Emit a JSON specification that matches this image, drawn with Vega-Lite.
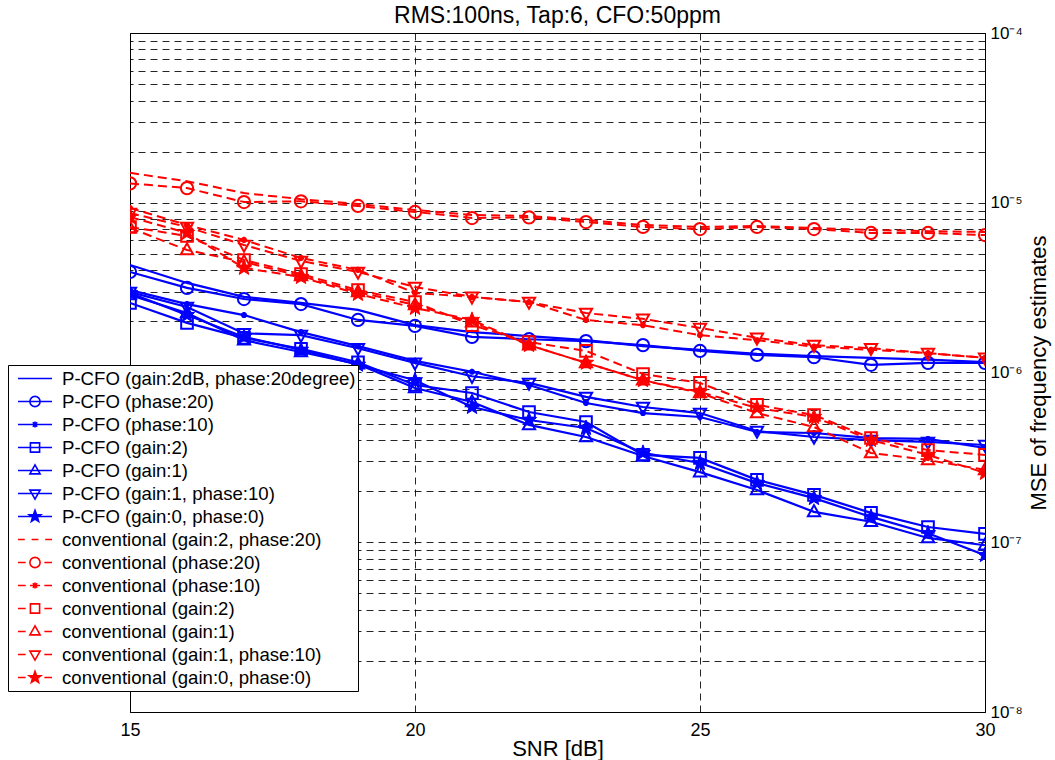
{
"$schema": "https://vega.github.io/schema/vega-lite/v6.json",
"width": 855, "height": 679,
"autosize": {"type": "none"},
"padding": {"left": 130, "top": 33, "right": 70, "bottom": 48},
"background": "white",
"title": {"text": "RMS:100ns, Tap:6, CFO:50ppm", "fontSize": 23, "font": "Liberation Sans", "fontWeight": "normal", "color": "black", "offset": -4, "anchor": "middle"},
"datasets": {"d": [
{"s":"P-CFO (gain:2dB, phase:20degree)","x":15,"y":4.3e-6},{"s":"P-CFO (gain:2dB, phase:20degree)","x":16,"y":3.37e-6},{"s":"P-CFO (gain:2dB, phase:20degree)","x":17,"y":2.79e-6},{"s":"P-CFO (gain:2dB, phase:20degree)","x":18,"y":2.57e-6},{"s":"P-CFO (gain:2dB, phase:20degree)","x":19,"y":2.34e-6},{"s":"P-CFO (gain:2dB, phase:20degree)","x":20,"y":1.9e-6},{"s":"P-CFO (gain:2dB, phase:20degree)","x":21,"y":1.73e-6},{"s":"P-CFO (gain:2dB, phase:20degree)","x":22,"y":1.64e-6},{"s":"P-CFO (gain:2dB, phase:20degree)","x":23,"y":1.55e-6},{"s":"P-CFO (gain:2dB, phase:20degree)","x":24,"y":1.43e-6},{"s":"P-CFO (gain:2dB, phase:20degree)","x":25,"y":1.36e-6},{"s":"P-CFO (gain:2dB, phase:20degree)","x":26,"y":1.29e-6},{"s":"P-CFO (gain:2dB, phase:20degree)","x":27,"y":1.25e-6},{"s":"P-CFO (gain:2dB, phase:20degree)","x":28,"y":1.22e-6},{"s":"P-CFO (gain:2dB, phase:20degree)","x":29,"y":1.19e-6},{"s":"P-CFO (gain:2dB, phase:20degree)","x":30,"y":1.15e-6},
{"s":"P-CFO (phase:20)","x":15,"y":3.91e-6},{"s":"P-CFO (phase:20)","x":16,"y":3.15e-6},{"s":"P-CFO (phase:20)","x":17,"y":2.71e-6},{"s":"P-CFO (phase:20)","x":18,"y":2.53e-6},{"s":"P-CFO (phase:20)","x":19,"y":2.04e-6},{"s":"P-CFO (phase:20)","x":20,"y":1.88e-6},{"s":"P-CFO (phase:20)","x":21,"y":1.62e-6},{"s":"P-CFO (phase:20)","x":22,"y":1.57e-6},{"s":"P-CFO (phase:20)","x":23,"y":1.53e-6},{"s":"P-CFO (phase:20)","x":24,"y":1.45e-6},{"s":"P-CFO (phase:20)","x":25,"y":1.34e-6},{"s":"P-CFO (phase:20)","x":26,"y":1.27e-6},{"s":"P-CFO (phase:20)","x":27,"y":1.23e-6},{"s":"P-CFO (phase:20)","x":28,"y":1.11e-6},{"s":"P-CFO (phase:20)","x":29,"y":1.14e-6},{"s":"P-CFO (phase:20)","x":30,"y":1.14e-6},
{"s":"P-CFO (phase:10)","x":15,"y":3.06e-6},{"s":"P-CFO (phase:10)","x":16,"y":2.53e-6},{"s":"P-CFO (phase:10)","x":17,"y":2.18e-6},{"s":"P-CFO (phase:10)","x":18,"y":1.73e-6},{"s":"P-CFO (phase:10)","x":19,"y":1.43e-6},{"s":"P-CFO (phase:10)","x":20,"y":1.17e-6},{"s":"P-CFO (phase:10)","x":21,"y":1.01e-6},{"s":"P-CFO (phase:10)","x":22,"y":8.44e-7},{"s":"P-CFO (phase:10)","x":23,"y":6.61e-7},{"s":"P-CFO (phase:10)","x":24,"y":5.77e-7},{"s":"P-CFO (phase:10)","x":25,"y":5.47e-7},{"s":"P-CFO (phase:10)","x":26,"y":4.46e-7},{"s":"P-CFO (phase:10)","x":27,"y":4.4e-7},{"s":"P-CFO (phase:10)","x":28,"y":4.11e-7},{"s":"P-CFO (phase:10)","x":29,"y":4.06e-7},{"s":"P-CFO (phase:10)","x":30,"y":3.59e-7},
{"s":"P-CFO (gain:2)","x":15,"y":2.57e-6},{"s":"P-CFO (gain:2)","x":16,"y":1.96e-6},{"s":"P-CFO (gain:2)","x":17,"y":1.6e-6},{"s":"P-CFO (gain:2)","x":18,"y":1.38e-6},{"s":"P-CFO (gain:2)","x":19,"y":1.15e-6},{"s":"P-CFO (gain:2)","x":20,"y":8.44e-7},{"s":"P-CFO (gain:2)","x":21,"y":7.57e-7},{"s":"P-CFO (gain:2)","x":22,"y":5.85e-7},{"s":"P-CFO (gain:2)","x":23,"y":5.11e-7},{"s":"P-CFO (gain:2)","x":24,"y":3.27e-7},{"s":"P-CFO (gain:2)","x":25,"y":3.14e-7},{"s":"P-CFO (gain:2)","x":26,"y":2.33e-7},{"s":"P-CFO (gain:2)","x":27,"y":1.9e-7},{"s":"P-CFO (gain:2)","x":28,"y":1.49e-7},{"s":"P-CFO (gain:2)","x":29,"y":1.23e-7},{"s":"P-CFO (gain:2)","x":30,"y":1.12e-7},
{"s":"P-CFO (gain:1)","x":15,"y":2.86e-6},{"s":"P-CFO (gain:1)","x":16,"y":2.24e-6},{"s":"P-CFO (gain:1)","x":17,"y":1.55e-6},{"s":"P-CFO (gain:1)","x":18,"y":1.32e-6},{"s":"P-CFO (gain:1)","x":19,"y":1.12e-6},{"s":"P-CFO (gain:1)","x":20,"y":8.1e-7},{"s":"P-CFO (gain:1)","x":21,"y":6.7e-7},{"s":"P-CFO (gain:1)","x":22,"y":4.91e-7},{"s":"P-CFO (gain:1)","x":23,"y":4.17e-7},{"s":"P-CFO (gain:1)","x":24,"y":3.22e-7},{"s":"P-CFO (gain:1)","x":25,"y":2.59e-7},{"s":"P-CFO (gain:1)","x":26,"y":2.03e-7},{"s":"P-CFO (gain:1)","x":27,"y":1.51e-7},{"s":"P-CFO (gain:1)","x":28,"y":1.32e-7},{"s":"P-CFO (gain:1)","x":29,"y":1.06e-7},{"s":"P-CFO (gain:1)","x":30,"y":9.6e-8},
{"s":"P-CFO (gain:1, phase:10)","x":15,"y":2.98e-6},{"s":"P-CFO (gain:1, phase:10)","x":16,"y":2.43e-6},{"s":"P-CFO (gain:1, phase:10)","x":17,"y":1.7e-6},{"s":"P-CFO (gain:1, phase:10)","x":18,"y":1.66e-6},{"s":"P-CFO (gain:1, phase:10)","x":19,"y":1.39e-6},{"s":"P-CFO (gain:1, phase:10)","x":20,"y":1.14e-6},{"s":"P-CFO (gain:1, phase:10)","x":21,"y":9.5e-7},{"s":"P-CFO (gain:1, phase:10)","x":22,"y":8.68e-7},{"s":"P-CFO (gain:1, phase:10)","x":23,"y":7.18e-7},{"s":"P-CFO (gain:1, phase:10)","x":24,"y":6.26e-7},{"s":"P-CFO (gain:1, phase:10)","x":25,"y":5.77e-7},{"s":"P-CFO (gain:1, phase:10)","x":26,"y":4.52e-7},{"s":"P-CFO (gain:1, phase:10)","x":27,"y":4.17e-7},{"s":"P-CFO (gain:1, phase:10)","x":28,"y":4.0e-7},{"s":"P-CFO (gain:1, phase:10)","x":29,"y":3.9e-7},{"s":"P-CFO (gain:1, phase:10)","x":30,"y":3.74e-7},
{"s":"P-CFO (gain:0, phase:0)","x":15,"y":2.94e-6},{"s":"P-CFO (gain:0, phase:0)","x":16,"y":2.18e-6},{"s":"P-CFO (gain:0, phase:0)","x":17,"y":1.62e-6},{"s":"P-CFO (gain:0, phase:0)","x":18,"y":1.36e-6},{"s":"P-CFO (gain:0, phase:0)","x":19,"y":1.11e-6},{"s":"P-CFO (gain:0, phase:0)","x":20,"y":9.0e-7},{"s":"P-CFO (gain:0, phase:0)","x":21,"y":6.26e-7},{"s":"P-CFO (gain:0, phase:0)","x":22,"y":5.25e-7},{"s":"P-CFO (gain:0, phase:0)","x":23,"y":4.71e-7},{"s":"P-CFO (gain:0, phase:0)","x":24,"y":3.36e-7},{"s":"P-CFO (gain:0, phase:0)","x":25,"y":2.93e-7},{"s":"P-CFO (gain:0, phase:0)","x":26,"y":2.23e-7},{"s":"P-CFO (gain:0, phase:0)","x":27,"y":1.82e-7},{"s":"P-CFO (gain:0, phase:0)","x":28,"y":1.41e-7},{"s":"P-CFO (gain:0, phase:0)","x":29,"y":1.13e-7},{"s":"P-CFO (gain:0, phase:0)","x":30,"y":8.4e-8},
{"s":"conventional (gain:2, phase:20)","x":15,"y":1.5e-5},{"s":"conventional (gain:2, phase:20)","x":16,"y":1.34e-5},{"s":"conventional (gain:2, phase:20)","x":17,"y":1.14e-5},{"s":"conventional (gain:2, phase:20)","x":18,"y":1.05e-5},{"s":"conventional (gain:2, phase:20)","x":19,"y":9.84e-6},{"s":"conventional (gain:2, phase:20)","x":20,"y":9.06e-6},{"s":"conventional (gain:2, phase:20)","x":21,"y":8.47e-6},{"s":"conventional (gain:2, phase:20)","x":22,"y":8.36e-6},{"s":"conventional (gain:2, phase:20)","x":23,"y":7.91e-6},{"s":"conventional (gain:2, phase:20)","x":24,"y":7.4e-6},{"s":"conventional (gain:2, phase:20)","x":25,"y":7.2e-6},{"s":"conventional (gain:2, phase:20)","x":26,"y":7.3e-6},{"s":"conventional (gain:2, phase:20)","x":27,"y":7.1e-6},{"s":"conventional (gain:2, phase:20)","x":28,"y":6.91e-6},{"s":"conventional (gain:2, phase:20)","x":29,"y":6.8e-6},{"s":"conventional (gain:2, phase:20)","x":30,"y":6.73e-6},
{"s":"conventional (phase:20)","x":15,"y":1.3e-5},{"s":"conventional (phase:20)","x":16,"y":1.22e-5},{"s":"conventional (phase:20)","x":17,"y":1.01e-5},{"s":"conventional (phase:20)","x":18,"y":1.02e-5},{"s":"conventional (phase:20)","x":19,"y":9.57e-6},{"s":"conventional (phase:20)","x":20,"y":8.83e-6},{"s":"conventional (phase:20)","x":21,"y":8.13e-6},{"s":"conventional (phase:20)","x":22,"y":8.2e-6},{"s":"conventional (phase:20)","x":23,"y":7.7e-6},{"s":"conventional (phase:20)","x":24,"y":7.2e-6},{"s":"conventional (phase:20)","x":25,"y":7.0e-6},{"s":"conventional (phase:20)","x":26,"y":7.2e-6},{"s":"conventional (phase:20)","x":27,"y":7.0e-6},{"s":"conventional (phase:20)","x":28,"y":6.64e-6},{"s":"conventional (phase:20)","x":29,"y":6.64e-6},{"s":"conventional (phase:20)","x":30,"y":6.45e-6},
{"s":"conventional (phase:10)","x":15,"y":9.31e-6},{"s":"conventional (phase:10)","x":16,"y":7.4e-6},{"s":"conventional (phase:10)","x":17,"y":6.04e-6},{"s":"conventional (phase:10)","x":18,"y":4.73e-6},{"s":"conventional (phase:10)","x":19,"y":4.02e-6},{"s":"conventional (phase:10)","x":20,"y":2.94e-6},{"s":"conventional (phase:10)","x":21,"y":2.79e-6},{"s":"conventional (phase:10)","x":22,"y":2.6e-6},{"s":"conventional (phase:10)","x":23,"y":2.04e-6},{"s":"conventional (phase:10)","x":24,"y":1.9e-6},{"s":"conventional (phase:10)","x":25,"y":1.66e-6},{"s":"conventional (phase:10)","x":26,"y":1.55e-6},{"s":"conventional (phase:10)","x":27,"y":1.42e-6},{"s":"conventional (phase:10)","x":28,"y":1.36e-6},{"s":"conventional (phase:10)","x":29,"y":1.3e-6},{"s":"conventional (phase:10)","x":30,"y":1.22e-6},
{"s":"conventional (gain:2)","x":15,"y":7.2e-6},{"s":"conventional (gain:2)","x":16,"y":6.37e-6},{"s":"conventional (gain:2)","x":17,"y":4.6e-6},{"s":"conventional (gain:2)","x":18,"y":3.8e-6},{"s":"conventional (gain:2)","x":19,"y":3.06e-6},{"s":"conventional (gain:2)","x":20,"y":2.6e-6},{"s":"conventional (gain:2)","x":21,"y":1.9e-6},{"s":"conventional (gain:2)","x":22,"y":1.51e-6},{"s":"conventional (gain:2)","x":23,"y":1.34e-6},{"s":"conventional (gain:2)","x":24,"y":9.8e-7},{"s":"conventional (gain:2)","x":25,"y":8.68e-7},{"s":"conventional (gain:2)","x":26,"y":6.44e-7},{"s":"conventional (gain:2)","x":27,"y":5.62e-7},{"s":"conventional (gain:2)","x":28,"y":4.11e-7},{"s":"conventional (gain:2)","x":29,"y":3.49e-7},{"s":"conventional (gain:2)","x":30,"y":3.27e-7},
{"s":"conventional (gain:1)","x":15,"y":7.1e-6},{"s":"conventional (gain:1)","x":16,"y":5.27e-6},{"s":"conventional (gain:1)","x":17,"y":4.48e-6},{"s":"conventional (gain:1)","x":18,"y":3.7e-6},{"s":"conventional (gain:1)","x":19,"y":2.98e-6},{"s":"conventional (gain:1)","x":20,"y":2.5e-6},{"s":"conventional (gain:1)","x":21,"y":1.98e-6},{"s":"conventional (gain:1)","x":22,"y":1.45e-6},{"s":"conventional (gain:1)","x":23,"y":1.14e-6},{"s":"conventional (gain:1)","x":24,"y":9.0e-7},{"s":"conventional (gain:1)","x":25,"y":7.57e-7},{"s":"conventional (gain:1)","x":26,"y":5.77e-7},{"s":"conventional (gain:1)","x":27,"y":4.77e-7},{"s":"conventional (gain:1)","x":28,"y":3.36e-7},{"s":"conventional (gain:1)","x":29,"y":3.05e-7},{"s":"conventional (gain:1)","x":30,"y":2.67e-7},
{"s":"conventional (gain:1, phase:10)","x":15,"y":8.7e-6},{"s":"conventional (gain:1, phase:10)","x":16,"y":7.2e-6},{"s":"conventional (gain:1, phase:10)","x":17,"y":5.64e-6},{"s":"conventional (gain:1, phase:10)","x":18,"y":4.54e-6},{"s":"conventional (gain:1, phase:10)","x":19,"y":3.91e-6},{"s":"conventional (gain:1, phase:10)","x":20,"y":3.19e-6},{"s":"conventional (gain:1, phase:10)","x":21,"y":2.79e-6},{"s":"conventional (gain:1, phase:10)","x":22,"y":2.6e-6},{"s":"conventional (gain:1, phase:10)","x":23,"y":2.24e-6},{"s":"conventional (gain:1, phase:10)","x":24,"y":2.07e-6},{"s":"conventional (gain:1, phase:10)","x":25,"y":1.83e-6},{"s":"conventional (gain:1, phase:10)","x":26,"y":1.6e-6},{"s":"conventional (gain:1, phase:10)","x":27,"y":1.45e-6},{"s":"conventional (gain:1, phase:10)","x":28,"y":1.39e-6},{"s":"conventional (gain:1, phase:10)","x":29,"y":1.3e-6},{"s":"conventional (gain:1, phase:10)","x":30,"y":1.22e-6},
{"s":"conventional (gain:0, phase:0)","x":15,"y":8.24e-6},{"s":"conventional (gain:0, phase:0)","x":16,"y":6.64e-6},{"s":"conventional (gain:0, phase:0)","x":17,"y":4.13e-6},{"s":"conventional (gain:0, phase:0)","x":18,"y":3.65e-6},{"s":"conventional (gain:0, phase:0)","x":19,"y":2.9e-6},{"s":"conventional (gain:0, phase:0)","x":20,"y":2.4e-6},{"s":"conventional (gain:0, phase:0)","x":21,"y":2.04e-6},{"s":"conventional (gain:0, phase:0)","x":22,"y":1.45e-6},{"s":"conventional (gain:0, phase:0)","x":23,"y":1.14e-6},{"s":"conventional (gain:0, phase:0)","x":24,"y":9.0e-7},{"s":"conventional (gain:0, phase:0)","x":25,"y":7.67e-7},{"s":"conventional (gain:0, phase:0)","x":26,"y":6.18e-7},{"s":"conventional (gain:0, phase:0)","x":27,"y":5.47e-7},{"s":"conventional (gain:0, phase:0)","x":28,"y":4.0e-7},{"s":"conventional (gain:0, phase:0)","x":29,"y":3.27e-7},{"s":"conventional (gain:0, phase:0)","x":30,"y":2.56e-7}
]},
"data": {"name": "d"},
"encoding": {
  "x": {"field": "x", "type": "quantitative",
    "scale": {"domain": [15, 30], "nice": false, "zero": false},
    "axis": {"values": [15, 20, 25, 30], "grid": true, "gridDash": [7, 5], "gridColor": "#000000", "gridOpacity": 0.85, "ticks": false, "domain": false,
      "labelFont": "Liberation Sans", "labelFontSize": 18, "labelColor": "black", "labelPadding": 9, "labelFlush": false,
      "title": "SNR [dB]", "titleFont": "Liberation Sans", "titleFontSize": 22, "titleFontWeight": "normal", "titleColor": "black", "titlePadding": -1}},
  "y": {"field": "y", "type": "quantitative",
    "scale": {"type": "log", "domain": [1e-8, 1e-4], "nice": false},
    "axis": {"orient": "right",
      "values": [1e-8, 2e-8, 3e-8, 4e-8, 5e-8, 6e-8, 7e-8, 8e-8, 9e-8, 1e-7, 2e-7, 3e-7, 4e-7, 5e-7, 6e-7, 7e-7, 8e-7, 9e-7, 1e-6, 2e-6, 3e-6, 4e-6, 5e-6, 6e-6, 7e-6, 8e-6, 9e-6, 1e-5, 2e-5, 3e-5, 4e-5, 5e-5, 6e-5, 7e-5, 8e-5, 9e-5, 1e-4],
      "labelExpr": "datum.value == 1e-8 ? '10⁻⁸' : datum.value == 1e-7 ? '10⁻⁷' : datum.value == 1e-6 ? '10⁻⁶' : datum.value == 1e-5 ? '10⁻⁵' : datum.value == 1e-4 ? '10⁻⁴' : ''",
      "grid": true, "gridDash": [7, 5], "gridColor": "#000000", "gridOpacity": 0.85, "ticks": false, "domain": false,
      "labelFont": "Liberation Sans", "labelFontSize": 17, "labelColor": "black", "labelPadding": 5, "labelFlush": false, "labelOverlap": false,
      "title": "MSE of frequency estimates", "titleFont": "Liberation Sans", "titleFontSize": 22, "titleFontWeight": "normal", "titleColor": "black", "titleAngle": 270, "titleBaseline": "top", "titlePadding": 6}},
  "color": {"field": "s", "type": "nominal",
    "scale": {"domain": ["P-CFO (gain:2dB, phase:20degree)", "P-CFO (phase:20)", "P-CFO (phase:10)", "P-CFO (gain:2)", "P-CFO (gain:1)", "P-CFO (gain:1, phase:10)", "P-CFO (gain:0, phase:0)", "conventional (gain:2, phase:20)", "conventional (phase:20)", "conventional (phase:10)", "conventional (gain:2)", "conventional (gain:1)", "conventional (gain:1, phase:10)", "conventional (gain:0, phase:0)"],
      "range": ["#0000ff", "#0000ff", "#0000ff", "#0000ff", "#0000ff", "#0000ff", "#0000ff", "#ff0000", "#ff0000", "#ff0000", "#ff0000", "#ff0000", "#ff0000", "#ff0000"]},
    "legend": {"orient": "none", "legendX": -122, "legendY": 332, "title": null,
      "symbolSize": 1156, "symbolStrokeWidth": 1.5, "clipHeight": 23, "rowPadding": 0, "padding": 2,
      "symbolOffset": 7, "labelOffset": 9, "labelFont": "Liberation Sans", "labelFontSize": 18.6, "labelColor": "black", "labelLimit": 500,
      "labelExpr": "datum.label + '\u00a0\u00a0'",
      "fillColor": "white", "strokeColor": "black",
      "encode": {"symbols": {"update": {
        "shape": {"signal": "['M-1,0H1', 'M-1,0H1M-0.3,0A0.3,0.3 0 1,0 0.3,0A0.3,0.3 0 1,0 -0.3,0', 'M-1,0H1M-0.18,0H0.18M0,-0.18V0.18M-0.13,-0.13L0.13,0.13M-0.13,0.13L0.13,-0.13', 'M-1,0H1M-0.27,-0.27H0.27V0.27H-0.27Z', 'M-1,0H1M0,-0.33L0.3,0.2H-0.3Z', 'M-1,0H1M0,0.33L0.3,-0.2H-0.3Z', 'M-1,0H1M0,-0.36L0.088,-0.121L0.342,-0.111L0.143,0.046L0.212,0.291L0,0.15L-0.212,0.291L-0.143,0.046L-0.342,-0.111L-0.088,-0.121Z', 'M-1,0H-0.6M-0.2,0H0.2M0.6,0H1', 'M-1,0H-0.55M0.55,0H1M-0.3,0A0.3,0.3 0 1,0 0.3,0A0.3,0.3 0 1,0 -0.3,0', 'M-1,0H-0.55M0.55,0H1M-0.3,0H0.3M0,-0.18V0.18M-0.13,-0.13L0.13,0.13M-0.13,0.13L0.13,-0.13', 'M-1,0H-0.55M0.55,0H1M-0.27,-0.27H0.27V0.27H-0.27Z', 'M-1,0H-0.55M0.55,0H1M0,-0.33L0.3,0.2H-0.3Z', 'M-1,0H-0.55M0.55,0H1M0,0.33L0.3,-0.2H-0.3Z', 'M-1,0H-0.55M0.55,0H1M-0.3,0H0.3M0,-0.36L0.088,-0.121L0.342,-0.111L0.143,0.046L0.212,0.291L0,0.15L-0.212,0.291L-0.143,0.046L-0.342,-0.111L-0.088,-0.121Z'][datum.index]"},
        "stroke": {"signal": "datum.index < 7 ? '#0000ff' : '#ff0000'"},
        "fill": {"signal": "datum.index == 6 ? '#0000ff' : datum.index == 13 ? '#ff0000' : 'transparent'"},
        "strokeDash": {"value": []},
        "strokeWidth": {"value": 1.6},
        "opacity": {"value": 1},
        "size": {"value": 1156}
      }}}}}
},
"layer": [
  {"transform": [{"filter": {"field": "s", "oneOf": ["P-CFO (gain:2dB, phase:20degree)", "P-CFO (phase:20)", "P-CFO (phase:10)", "P-CFO (gain:2)", "P-CFO (gain:1)", "P-CFO (gain:1, phase:10)", "P-CFO (gain:0, phase:0)"]}}],
   "mark": {"type": "line", "strokeWidth": 2.2, "clip": true},
   "encoding": {"detail": {"field": "s", "type": "nominal"}}},
  {"transform": [{"filter": {"field": "s", "oneOf": ["conventional (gain:2, phase:20)", "conventional (phase:20)", "conventional (phase:10)", "conventional (gain:2)", "conventional (gain:1)", "conventional (gain:1, phase:10)", "conventional (gain:0, phase:0)"]}}],
   "mark": {"type": "line", "strokeWidth": 2, "strokeDash": [9, 5], "clip": true},
   "encoding": {"detail": {"field": "s", "type": "nominal"}}},
  {"transform": [{"filter": {"field": "s", "oneOf": ["P-CFO (phase:20)", "P-CFO (phase:10)", "P-CFO (gain:2)", "P-CFO (gain:1)", "P-CFO (gain:1, phase:10)", "conventional (phase:20)", "conventional (phase:10)", "conventional (gain:2)", "conventional (gain:1)", "conventional (gain:1, phase:10)"]}}],
   "mark": {"type": "point", "filled": false, "strokeWidth": 2, "size": 150, "opacity": 1, "clip": true},
   "encoding": {
     "shape": {"field": "s", "type": "nominal", "legend": null,
     "scale": {"domain": ["P-CFO (phase:20)", "P-CFO (phase:10)", "P-CFO (gain:2)", "P-CFO (gain:1)", "P-CFO (gain:1, phase:10)", "conventional (phase:20)", "conventional (phase:10)", "conventional (gain:2)", "conventional (gain:1)", "conventional (gain:1, phase:10)"],
       "range": ["M-1,0A1,1 0 1,0 1,0A1,1 0 1,0 -1,0", "M-0.5,0H0.5M0,-0.5V0.5M-0.35,-0.35L0.35,0.35M-0.35,0.35L0.35,-0.35", "M-0.95,-0.95H0.95V0.95H-0.95Z", "M0,-1.1L1,0.7H-1Z", "M0,1.1L1,-0.7H-1Z", "M-1,0A1,1 0 1,0 1,0A1,1 0 1,0 -1,0", "M-0.5,0H0.5M0,-0.5V0.5M-0.35,-0.35L0.35,0.35M-0.35,0.35L0.35,-0.35", "M-0.95,-0.95H0.95V0.95H-0.95Z", "M0,-1.1L1,0.7H-1Z", "M0,1.1L1,-0.7H-1Z"]}}}},
  {"transform": [{"filter": {"field": "s", "oneOf": ["P-CFO (gain:0, phase:0)", "conventional (gain:0, phase:0)"]}}],
   "mark": {"type": "point", "filled": false, "fillOpacity": 1, "strokeWidth": 1, "size": 196, "opacity": 1, "clip": true,
     "shape": "M0,-1.15L0.28,-0.39L1.09,-0.36L0.46,0.15L0.68,0.93L0,0.48L-0.68,0.93L-0.46,0.15L-1.09,-0.36L-0.28,-0.39Z"},
   "encoding": {"fill": {"field": "s", "type": "nominal", "legend": null,
     "scale": {"domain": ["P-CFO (gain:0, phase:0)", "conventional (gain:0, phase:0)"], "range": ["#0000ff", "#ff0000"]}}}}
],
"config": {
  "view": {"stroke": "black", "strokeWidth": 1},
  "font": "Liberation Sans"
}
}
